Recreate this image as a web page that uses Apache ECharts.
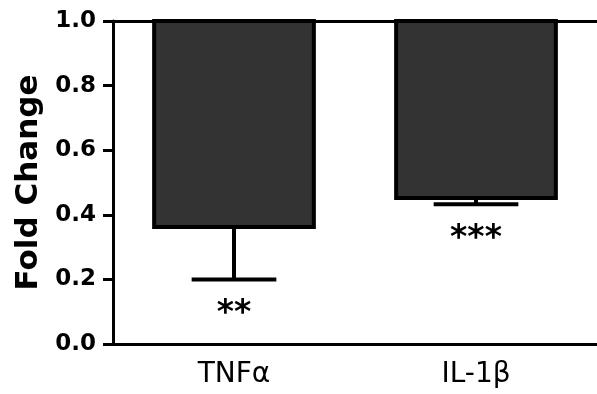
<!DOCTYPE html>
<html>
<head>
<meta charset="utf-8">
<script src="https://cdn.jsdelivr.net/npm/echarts@6/dist/echarts.min.js"></script>
<style>
html,body{margin:0;padding:0;background:#fff;}
#chart{width:597px;height:394px;}
</style>
</head>
<body>
<div id="chart"></div>
<script>
const categories = ['TNFα', 'IL-1β'];
const foldChange = [0.362, 0.452];
const errorLower = [0.200, 0.433];
const significance = ['**', '***'];
const baseline = 1.0;
const yMin = 0, yMax = 1.0, yStep = 0.2;

const seriesData = categories.map((c, i) => [i, foldChange[i], errorLower[i]]);

function renderItem(params, api) {
  const i = api.value(0);
  const v = api.value(1);
  const lo = api.value(2);
  const top = api.coord([i, baseline]);
  const bot = api.coord([i, v]);
  const low = api.coord([i, lo]);
  const band = api.size([1, 0])[0];
  const bw = band * 0.66;
  const cap = band * 0.35;
  const x = top[0];
  return {
    type: 'group',
    children: [
      {type: 'line', shape: {x1: x, y1: bot[1], x2: x, y2: low[1]}, style: {stroke: '#000', lineWidth: 4}},
      {type: 'line', shape: {x1: x - cap / 2, y1: low[1], x2: x + cap / 2, y2: low[1]}, style: {stroke: '#000', lineWidth: 4}},
      {type: 'rect', shape: {x: x - bw / 2, y: top[1], width: bw, height: bot[1] - top[1]},
        style: {fill: '#333333', stroke: '#000', lineWidth: 4}},
      {type: 'text', style: {text: significance[i], x: x, y: low[1] + 35, textAlign: 'center', textVerticalAlign: 'middle',
        fontSize: 33, fontWeight: 'bold', fontFamily: 'DejaVu Sans', fill: '#000'}}
    ]
  };
}

const chart = echarts.init(document.getElementById('chart'), null, {renderer: 'canvas'});
chart.setOption({
  backgroundColor: '#fff',
  animation: false,
  grid: {left: 113, right: -4, top: 21, bottom: 50},
  xAxis: [{
    type: 'category',
    data: categories,
    axisLine: {lineStyle: {color: '#000', width: 3}},
    axisTick: {alignWithLabel: true, length: 9, lineStyle: {color: '#000', width: 3}},
    axisLabel: {color: '#000', fontSize: 28, fontFamily: 'DejaVu Sans', margin: 17}
  }, {
    type: 'category',
    data: categories,
    position: 'top',
    axisLine: {lineStyle: {color: '#000', width: 3}},
    axisTick: {show: false},
    axisLabel: {show: false}
  }],
  yAxis: {
    type: 'value',
    min: yMin, max: yMax, interval: yStep,
    name: 'Fold Change',
    nameLocation: 'middle',
    nameGap: 67,
    nameTextStyle: {color: '#000', fontSize: 31, fontWeight: 'bold', fontFamily: 'DejaVu Sans'},
    axisLine: {show: true, lineStyle: {color: '#000', width: 3}},
    axisTick: {show: true, length: 10, lineStyle: {color: '#000', width: 3}},
    splitLine: {show: false},
    axisLabel: {color: '#000', fontSize: 23, fontWeight: 'bold', fontFamily: 'DejaVu Sans', margin: 17,
      formatter: v => v.toFixed(1)}
  },
  series: [{
    type: 'custom',
    renderItem: renderItem,
    data: seriesData,
    encode: {x: 0, y: 1},
    clip: false
  }]
});
</script>
</body>
</html>
